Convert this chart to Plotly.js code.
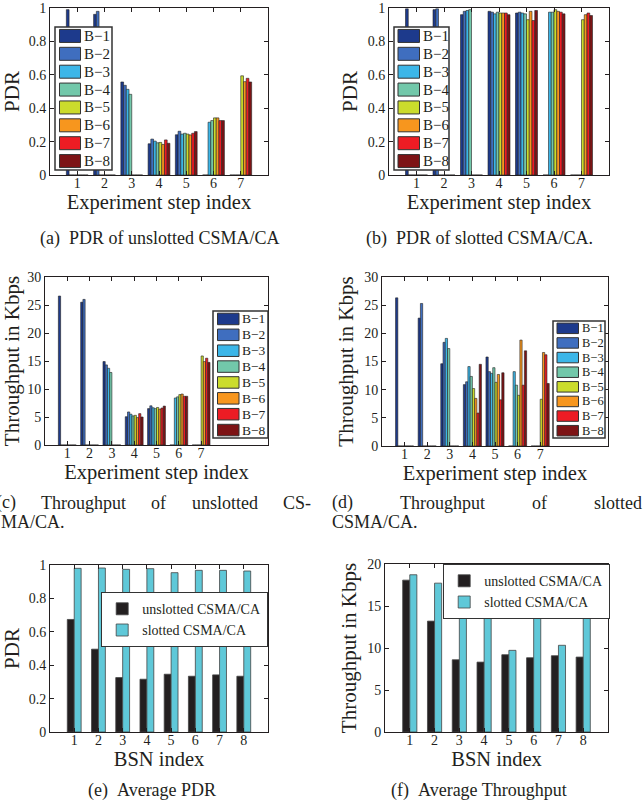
<!DOCTYPE html>
<html>
<head>
<meta charset="utf-8">
<script src="https://cdn.plot.ly/plotly-3.0.1.min.js"></script>
<style>html,body{margin:0;padding:0;background:#fff;}#chart{width:644px;height:809px;}</style>
</head>
<body>
<div id="chart"></div>
<script>
// ---------- DATA ----------
const steps = [1, 2, 3, 4, 5, 6, 7];
const nodes = ['B\u22121', 'B\u22122', 'B\u22123', 'B\u22124', 'B\u22125', 'B\u22126', 'B\u22127', 'B\u22128'];
const bsnIndex = [1, 2, 3, 4, 5, 6, 7, 8];
const pdrTicks = [0, 0.2, 0.4, 0.6, 0.8, 1];
const pdrTickText = ['0', '0.2', '0.4', '0.6', '0.8', '1'];

// rows = nodes B-1..B-8, columns = experiment steps 1..7
const pdrUnslotted = [
  [0.990, 0.962, 0.557, 0.187, 0.241, 0, 0],
  [0, 0.980, 0.537, 0.215, 0.262, 0, 0],
  [0, 0, 0.513, 0.203, 0.245, 0.316, 0],
  [0, 0, 0.483, 0.193, 0.250, 0.326, 0],
  [0, 0, 0, 0.195, 0.245, 0.342, 0.594],
  [0, 0, 0, 0.183, 0.240, 0.342, 0.559],
  [0, 0, 0, 0.210, 0.250, 0.326, 0.579],
  [0, 0, 0, 0.190, 0.260, 0.326, 0.557]
];
const pdrSlotted = [
  [0.995, 0.990, 0.960, 0.980, 0.970, 0, 0],
  [0, 0.995, 0.980, 0.975, 0.975, 0, 0],
  [0, 0, 0.985, 0.965, 0.970, 0.975, 0],
  [0, 0, 0.990, 0.975, 0.965, 0.975, 0],
  [0, 0, 0, 0.970, 0.930, 0.990, 0.930],
  [0, 0, 0, 0.970, 0.980, 0.980, 0.960],
  [0, 0, 0, 0.970, 0.925, 0.975, 0.970],
  [0, 0, 0, 0.960, 0.985, 0.965, 0.955]
];
const thrUnslotted = [
  [26.6, 25.5, 14.9, 5.05, 6.5, 0, 0],
  [0, 26.0, 14.3, 5.9, 7.0, 0, 0],
  [0, 0, 13.7, 5.5, 6.65, 8.4, 0],
  [0, 0, 12.95, 5.2, 6.5, 8.6, 0],
  [0, 0, 0, 5.3, 6.7, 9.0, 15.9],
  [0, 0, 0, 4.9, 6.4, 9.1, 14.9],
  [0, 0, 0, 5.6, 6.6, 8.7, 15.5],
  [0, 0, 0, 5.0, 6.95, 8.7, 14.75]
];
const thrSlotted = [
  [26.3, 22.7, 14.6, 10.9, 15.8, 0, 0],
  [0, 25.3, 18.4, 11.4, 13.2, 0, 0],
  [0, 0, 19.1, 14.1, 12.9, 13.2, 0],
  [0, 0, 17.3, 12.35, 13.9, 10.8, 0],
  [0, 0, 0, 10.2, 11.3, 9.0, 8.3],
  [0, 0, 0, 8.45, 12.7, 18.8, 16.6],
  [0, 0, 0, 5.85, 8.2, 10.8, 16.2],
  [0, 0, 0, 14.5, 13.0, 16.9, 11.1]
];
const avgPdrUnslotted = [0.674, 0.496, 0.326, 0.316, 0.346, 0.334, 0.342, 0.334];
const avgPdrSlotted   = [0.980, 0.982, 0.974, 0.978, 0.954, 0.968, 0.968, 0.964];
const avgThrUnslotted = [18.08, 13.2, 8.6, 8.32, 9.2, 8.84, 9.08, 8.92];
const avgThrSlotted   = [18.72, 17.72, 14.76, 13.6, 9.72, 14.12, 10.32, 13.8];
const avgNames = ['unslotted CSMA/CA', 'slotted CSMA/CA'];

// ---------- STYLE ----------
const nodeColors = ['#1d3a8c', '#3f6ebf', '#3cb6e8', '#72c8aa', '#cbdc2c', '#f7961e', '#ed1c24', '#7d1315'];
const avgColors = ['#231f20', '#5fc8d8'];
const FONT = '"Liberation Serif", "Times New Roman", Times, serif';
const TXT = '#231f20';
const W = 644, H = 809;

function px2x(v) { return v / W; }
function px2y(v) { return 1 - v / H; }

// subplot pixel boxes [left, right, top, bottom]
const boxes = [
  [50, 268, 8, 175],
  [389, 609, 8, 175],
  [45, 268, 277, 445],
  [382, 608, 277, 446],
  [50, 268, 565, 732],
  [385, 608, 564, 732]
];

const traces = [];
function stepTraces(data, ax) {
  data.forEach((row, k) => {
    traces.push({
      type: 'bar', x: steps, y: row, name: nodes[k],
      xaxis: 'x' + ax, yaxis: 'y' + ax, showlegend: false,
      width: 0.1, offset: -0.4 + 0.1 * k,
      marker: { color: nodeColors[k], line: { color: '#222', width: 0.6 } }
    });
  });
}
function avgTraces(series, ax, leg) {
  series.forEach((s, k) => {
    traces.push({
      type: 'bar', x: bsnIndex, y: s, name: avgNames[k],
      xaxis: 'x' + ax, yaxis: 'y' + ax, legend: leg, showlegend: true,
      width: 0.2857, offset: -0.2857 + 0.2857 * k,
      marker: { color: avgColors[k], line: { color: '#444', width: 0.8 } }
    });
  });
}
stepTraces(pdrUnslotted, '');
stepTraces(pdrSlotted, '2');
stepTraces(thrUnslotted, '3');
stepTraces(thrSlotted, '4');
avgTraces([avgPdrUnslotted, avgPdrSlotted], '5', 'legend');
avgTraces([avgThrUnslotted, avgThrSlotted], '6', 'legend2');

function xaxis(i, range, tickvals, title) {
  const b = boxes[i];
  return {
    domain: [px2x(b[0]), px2x(b[1])], range: range, anchor: i === 0 ? 'y' : 'y' + (i + 1),
    showline: true, linecolor: TXT, linewidth: 1, mirror: 'allticks',
    ticks: 'inside', ticklen: 4, tickcolor: TXT, tickvals: tickvals,
    ticklabelstandoff: -5,
    showgrid: false, zeroline: false, fixedrange: true,
    tickfont: { family: FONT, size: 14, color: TXT },
    title: { text: title, font: { family: FONT, size: 20.5, color: TXT }, standoff: 0 },
    automargin: false
  };
}
function yaxis(i, range, dtick, title, tv, tt) {
  const b = boxes[i];
  const ax = {
    domain: [px2y(b[3]), px2y(b[2])], range: range, anchor: i === 0 ? 'x' : 'x' + (i + 1),
    showline: true, linecolor: TXT, linewidth: 1, mirror: 'allticks',
    ticks: 'inside', ticklen: 4, tickcolor: TXT,
    showgrid: false, zeroline: false, fixedrange: true,
    tickfont: { family: FONT, size: 14, color: TXT },
    title: { text: title, font: { family: FONT, size: 21, color: TXT }, standoff: 4 },
    automargin: false
  };
  if (tv) { ax.tickmode = 'array'; ax.tickvals = tv; ax.ticktext = tt; }
  else { ax.dtick = dtick; ax.tick0 = 0; }
  return ax;
}
function legendAt(left, top, size) {
  return {
    x: px2x(left), y: px2y(top), xref: 'paper', yref: 'paper',
    xanchor: 'left', yanchor: 'top',
    bgcolor: '#ffffff', bordercolor: '#333', borderwidth: 1.2,
    font: { family: FONT, size: size, color: TXT },
    itemclick: false, itemdoubleclick: false, tracegroupgap: 0
  };
}

// ---- boxed legends for the per-step charts (built from nodes / nodeColors) ----
const shapes = [];
const annotations = [];
function stepLegend(box, swL, swR, swH, textX, fs) {
  const [l, r, t, b] = box;
  shapes.push({ type: 'rect', xref: 'paper', yref: 'paper',
    x0: px2x(l), x1: px2x(r), y0: px2y(b), y1: px2y(t),
    fillcolor: '#ffffff', line: { color: '#333', width: 1.5 }, layer: 'above' });
  const rowH = (b - t) / nodes.length;
  nodes.forEach((n, k) => {
    const cy = t + rowH * (k + 0.5);
    shapes.push({ type: 'rect', xref: 'paper', yref: 'paper',
      x0: px2x(swL), x1: px2x(swR), y0: px2y(cy + swH / 2), y1: px2y(cy - swH / 2),
      fillcolor: nodeColors[k], line: { color: '#333', width: 1 }, layer: 'above' });
    annotations.push({ text: n, xref: 'paper', yref: 'paper', x: px2x(textX), y: px2y(cy),
      xanchor: 'left', yanchor: 'middle', showarrow: false,
      font: { family: FONT, size: fs, color: TXT } });
  });
}
stepLegend([55, 112, 27, 170], 59.5, 80.5, 13, 81.5, 15);
stepLegend([394, 449, 27, 170], 398, 419.5, 13, 420.5, 15);
stepLegend([213, 268, 311, 438], 217.5, 239, 11.5, 240, 13.5);
stepLegend([553, 605, 321, 438], 557, 578.5, 10.5, 579.5, 12.5);

// ---- sub-figure captions ----
const CAP_SIZE = 18;
const capFont = { family: FONT, size: CAP_SIZE, color: TXT };
function cap(text, xpx, ypx, anchor) {
  annotations.push({ text: text, x: px2x(xpx), y: px2y(ypx), xref: 'paper', yref: 'paper',
    xanchor: anchor || 'center', yanchor: 'middle', showarrow: false, font: capFont });
}
const measureCtx = document.createElement('canvas').getContext('2d');
measureCtx.font = CAP_SIZE + 'px "Liberation Serif", "Times New Roman", serif';
// justified line: words spread evenly between left and right pixel edges
function justified(words, left, right, ypx) {
  const widths = words.map(w => measureCtx.measureText(w).width);
  const total = widths.reduce((a, b) => a + b, 0);
  const gap = (right - left - total) / (words.length - 1);
  let x = left;
  words.forEach((w, i) => { cap(w, x, ypx, 'left'); x += widths[i] + gap; });
}
cap('(a)\u2002PDR of unslotted CSMA/CA', 160, 238);
cap('(b)\u2002PDR of slotted CSMA/CA.', 479, 238);
justified(['(c)', 'Throughput', 'of', 'unslotted', 'CS-'], -6, 309, 503);
cap('MA/CA.', -1, 522, 'left');
justified(['(d)', 'Throughput', 'of', 'slotted'], 330, 640, 503);
cap('CSMA/CA.', 330, 522, 'left');
cap('(e)\u2002Average PDR', 152, 790);
cap('(f)\u2002Average Throughput', 479, 790);

const layout = {
  width: W, height: H,
  margin: { l: 0, r: 0, t: 0, b: 0 },
  paper_bgcolor: '#ffffff', plot_bgcolor: '#ffffff',
  barmode: 'overlay',
  showlegend: true,
  font: { family: FONT, color: TXT },
  xaxis: xaxis(0, [0, 8], steps, 'Experiment step index'),
  yaxis: yaxis(0, [0, 1], null, 'PDR', pdrTicks, pdrTickText),
  xaxis2: xaxis(1, [0, 8], steps, 'Experiment step index'),
  yaxis2: yaxis(1, [0, 1], null, 'PDR', pdrTicks, pdrTickText),
  xaxis3: xaxis(2, [0, 10], steps, 'Experiment step index'),
  yaxis3: yaxis(2, [0, 30], 5, 'Throughput in Kbps'),
  xaxis4: xaxis(3, [0, 10], steps, 'Experiment step index'),
  yaxis4: yaxis(3, [0, 30], 5, 'Throughput in Kbps'),
  xaxis5: xaxis(4, [0, 9], bsnIndex, 'BSN index'),
  yaxis5: yaxis(4, [0, 1], null, 'PDR', pdrTicks, pdrTickText),
  xaxis6: xaxis(5, [0, 9], bsnIndex, 'BSN index'),
  yaxis6: yaxis(5, [0, 20], 5, 'Throughput in Kbps'),
  legend: legendAt(101, 592, 14),
  legend2: legendAt(443, 564, 14),
  shapes: shapes,
  annotations: annotations
};

Plotly.newPlot('chart', traces, layout, { displayModeBar: false, staticPlot: true });
</script>
</body>
</html>
